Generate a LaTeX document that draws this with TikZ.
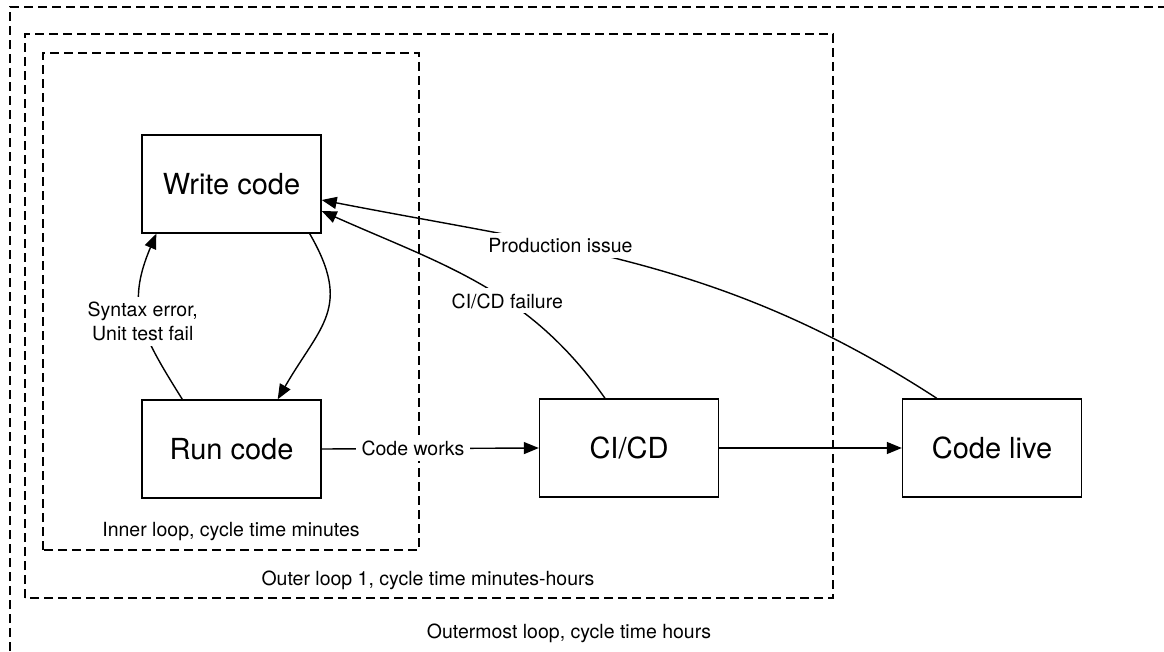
\documentclass[tikz,border=0pt]{standalone}
\usepackage{fontspec}
\setmainfont{TeX Gyre Heros}
\usetikzlibrary{arrows.meta}

\begin{document}
\begin{tikzpicture}[x=1pt,y=1pt,>={Triangle[length=15pt,width=12pt]},
  box/.style={draw,line width=1.4pt,minimum width=179pt,minimum height=98pt,inner sep=0pt,font=\fontsize{29}{33}\selectfont},
  loopline/.style={line width=1.3pt,dash pattern=on 9pt off 5pt},
  conn/.style={->,line width=1.4pt},
  lbl/.style={fill=white,inner xsep=6pt,inner ysep=5pt,align=center,font=\fontsize{19.5}{23.5}\selectfont}]
  \useasboundingbox (0,0) rectangle (1164,651);
  \draw[loopline] (10,0) -- (10,644) -- (1164,644);
  \draw[loopline] (25,53) rectangle (833,617);
  \draw[loopline] (43,101) rectangle (419,598);
  \node[font=\fontsize{19.5}{23.5}\selectfont] (innerl) at (231,119) {Inner loop, cycle time minutes};
  \node[font=\fontsize{19.5}{23.5}\selectfont] (outerl) at (428,71) {Outer loop 1, cycle time minutes-hours};
  \node[font=\fontsize{19.5}{23.5}\selectfont] (outmostl) at (569,18) {Outermost loop, cycle time hours};
  \node[box] (write) at (231.5,467) {Write code};
  \node[box] (run) at (231.5,202) {Run code};
  \node[box] (cicd) at (629,203) {CI/CD};
  \node[box] (live) at (992,203) {Code live};
  \draw[conn] ([xshift=-12pt]write.south east) to[out=-60,in=60,looseness=1.3] ([xshift=-44pt]run.north east);
  \draw[conn] ([xshift=41pt]run.north west) to[out=122,in=-113,looseness=1.2] node[lbl,pos=0.48] (synl) {Syntax error,\\Unit test fail} ([xshift=15pt]write.south west);
  \draw[conn] (run.east) -- node[lbl,pos=0.42] (worksl) {Code works} (cicd.west);
  \draw[conn] (cicd.east) -- (live.west);
  \draw[conn] ([xshift=-24pt]cicd.north) to[out=125,in=-24] node[lbl,pos=0.4] (faill) {CI/CD failure} ([yshift=-27pt]write.east);
  \draw[conn] ([xshift=35pt]live.north west) to[out=147,in=-11] node[lbl,pos=0.64] (prodl) {Production issue} ([yshift=-16pt]write.east);
\end{tikzpicture}
\end{document}
